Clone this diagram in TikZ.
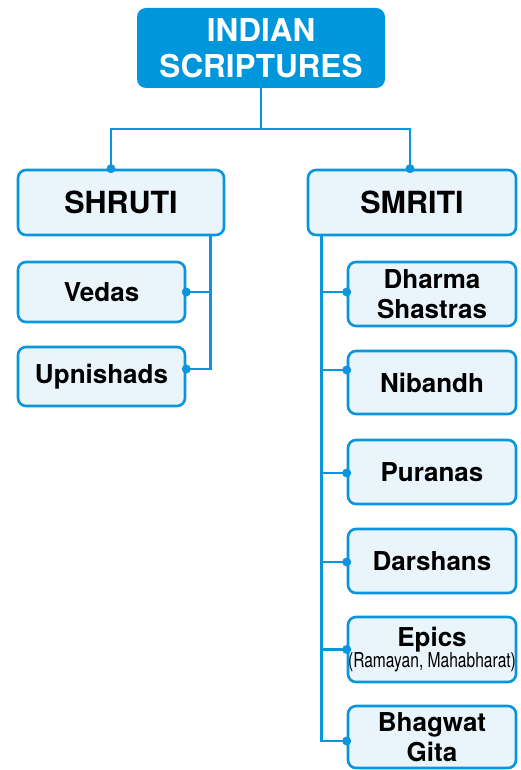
\documentclass[tikz,border=0pt]{standalone}
\usepackage{fontspec}
\setmainfont{TeX Gyre Heros}
\definecolor{linkblue}{HTML}{0A96DC}
\definecolor{titleblue}{HTML}{0096DC}
\definecolor{paleblue}{HTML}{E9F4FB}
\tikzset{
  titlebox/.style={rounded corners=9pt, fill=titleblue, text=white, align=center,
    inner sep=0pt, font=\bfseries\fontsize{31.5}{36}\selectfont},
  headbox/.style={rounded corners=8pt, draw=linkblue, fill=paleblue, line width=2.6pt,
    inner sep=0pt, minimum height=65pt, font=\bfseries\fontsize{30.5}{34}\selectfont},
  itembox/.style={rounded corners=8pt, draw=linkblue, fill=paleblue, line width=2.6pt,
    inner sep=0pt, align=center, font=\bfseries\fontsize{26}{30}\selectfont},
  link/.style={draw=linkblue, line width=2.9pt},
  joint/.style={fill=linkblue}
}
\begin{document}
\begin{tikzpicture}[x=1pt, y=-1pt]
  \useasboundingbox (0,0) rectangle (521,770);
  % title and the two branches
  \node[titlebox, minimum width=248pt, minimum height=80pt] (title) at (261,48) {INDIAN\\SCRIPTURES};
  \node[headbox, minimum width=206pt] (shruti) at (121,202.5) {SHRUTI};
  \node[headbox, minimum width=208pt] (smriti) at (412,202.5) {SMRITI};

  % shruti side
  \node[itembox, minimum width=167pt, minimum height=60pt] (vedas) at (101.5,292) {Vedas};
  \node[itembox, minimum width=167pt, minimum height=59pt] (upn) at (101.5,376.5) {Upnishads};

  % smriti side
  \node[itembox, minimum width=168pt, minimum height=64pt] (dharma) at (432,294) {Dharma\\Shastras};
  \node[itembox, minimum width=168pt, minimum height=63pt] (nib) at (432,382.5) {Nibandh};
  \node[itembox, minimum width=168pt, minimum height=64pt] (pur) at (432,472) {Puranas};
  \node[itembox, minimum width=168pt, minimum height=64pt] (dar) at (432,561) {Darshans};
  \node[itembox, minimum width=168pt, minimum height=65pt] (epi) at (432,649.5)
    {Epics\\[-9pt]{\mdseries\fontsize{20.5}{20.5}\selectfont\scalebox{0.76}[1]{(Ramayan, Mahabharat)}}};
  \node[itembox, minimum width=168pt, minimum height=62pt] (gita) at (432,737) {Bhagwat\\Gita};

  % top bus
  \coordinate (bus) at (261,129);
  \draw[link] ([xshift=-10pt]shruti.north) |- (bus) -| ([xshift=-2pt]smriti.north);
  \draw[link] (title.south) -- (bus);
  \fill[joint] ([xshift=-10pt]shruti.north) circle (4.5pt);
  \fill[joint] ([xshift=-2pt]smriti.north) circle (4.5pt);

  % shruti rail
  \coordinate (railL) at ([xshift=-15pt]shruti.south east);
  \draw[link] (railL) |- ([yshift=7.5pt]upn.east);
  \draw[link] (vedas.east) -- (vedas.east -| railL);
  \fill[joint] (vedas.east) circle (4.5pt);
  \fill[joint] ([yshift=7.5pt]upn.east) circle (4.5pt);

  % smriti rail
  \coordinate (railR) at ([xshift=15pt]smriti.south west);
  \draw[link] (railR) |- ([yshift=-4pt]gita.west);
  \foreach \n/\dy in {dharma/2,nib/12.5,pur/-1,dar/-1,epi/0,gita/-4}{
    \draw[link] ([yshift=\dy pt]\n.west) -- ([yshift=\dy pt]\n.west -| railR);
    \fill[joint] ([yshift=\dy pt]\n.west) circle (4.5pt);
  }
\end{tikzpicture}
\end{document}
